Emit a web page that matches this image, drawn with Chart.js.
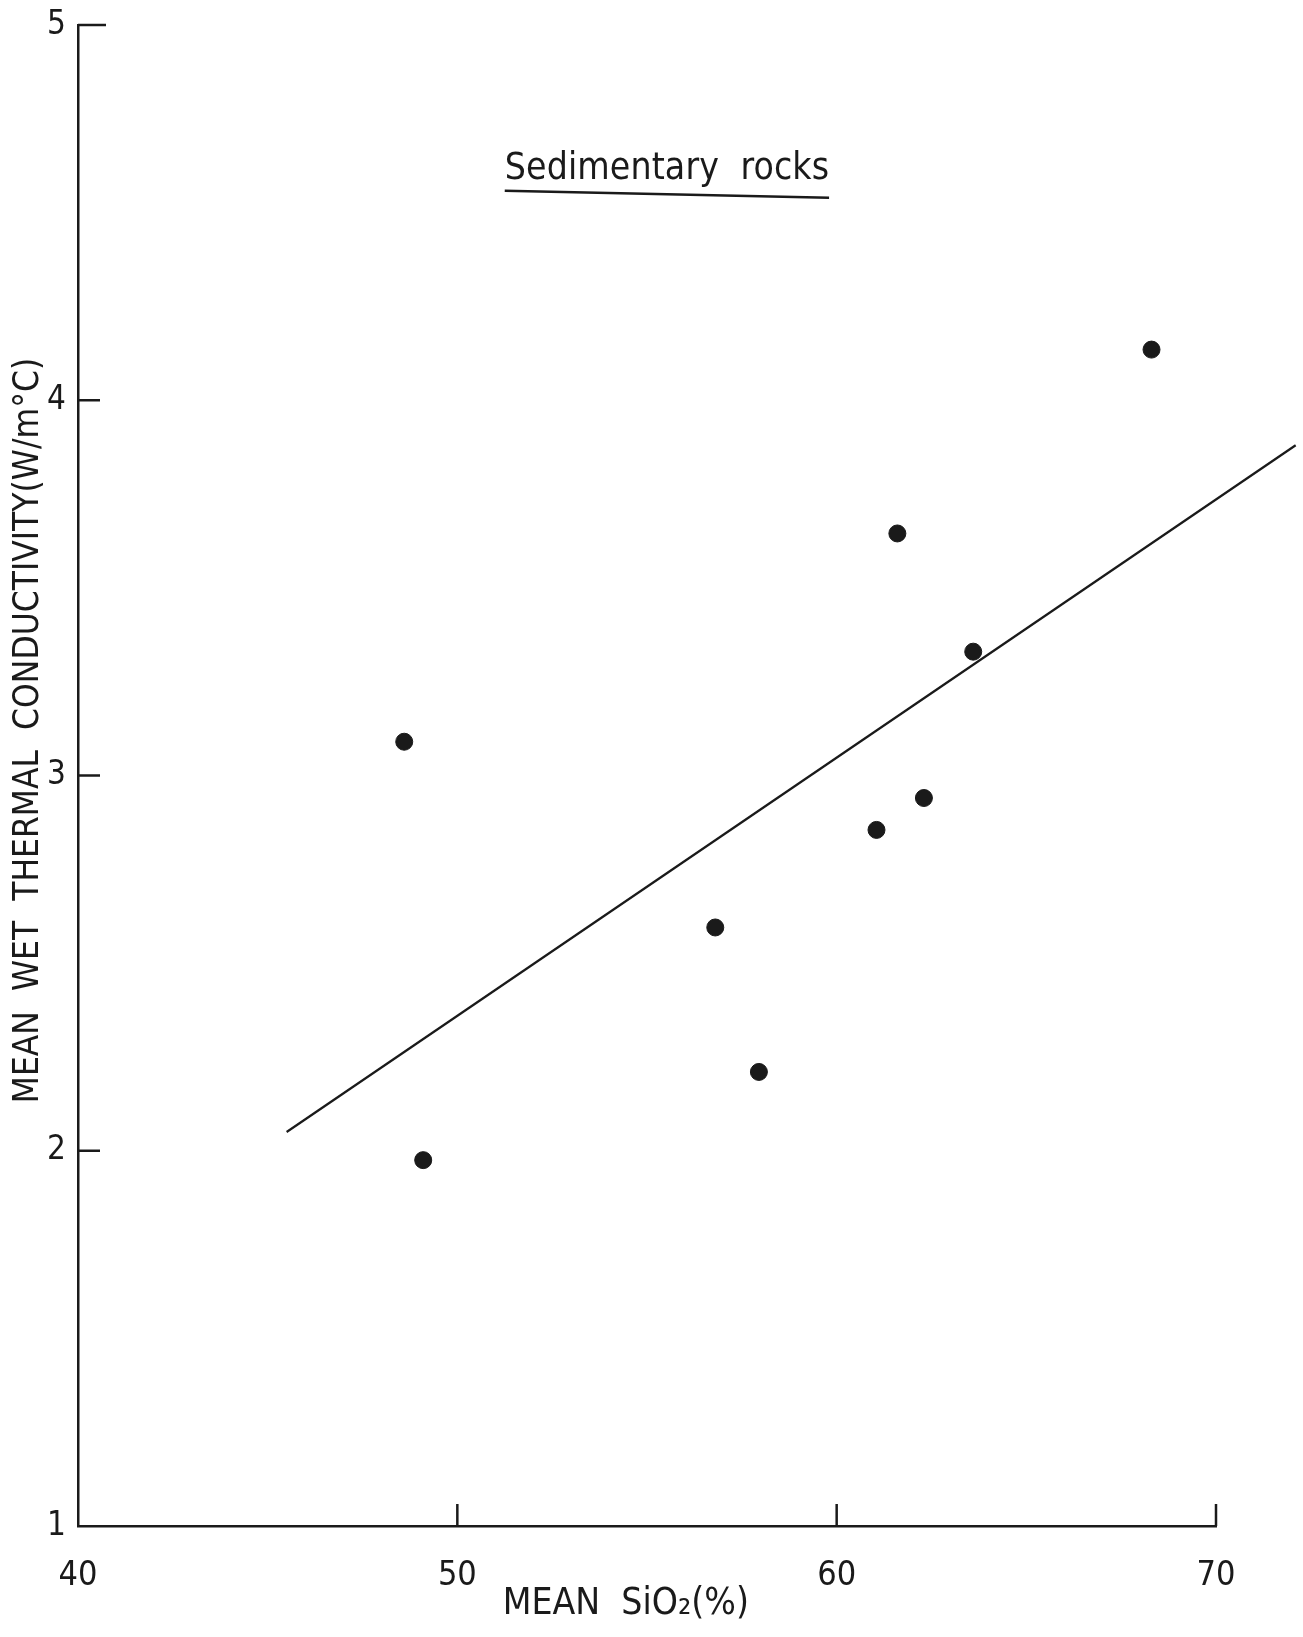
<!DOCTYPE html>
<html>
<head>
<meta charset="utf-8">
<title>Sedimentary rocks</title>
<script src="https://cdn.jsdelivr.net/npm/chart.js@4/dist/chart.umd.min.js"></script>
<style>
    html, body { margin: 0; padding: 0; background: #fff; }
    canvas { display: block; }
</style>
</head>
<body>
<canvas id="rockChart" width="1303" height="1637"></canvas>
<script>
// ========================================
// Data
// ========================================
const sio2 = [48.6, 49.1, 56.8, 57.95, 61.05, 61.6, 62.3, 63.6, 68.3];
const conductivity = [3.09, 1.975, 2.595, 2.21, 2.855, 3.645, 2.94, 3.33, 4.135];

const fitX = [45.5, 72.1];
const fitY = [2.05, 3.88];

const xTicks = [40, 50, 60, 70];
const yTicks = [1, 2, 3, 4, 5];
const xTickMarks = [50, 60, 70];
const yTickMarks = [2, 3, 4, 5];

const INK = '#1a1a1a';
const FONT = "'DejaVu Sans Condensed', 'DejaVu Sans', sans-serif";

// ========================================
// Tick marks + underlined heading
// ========================================
const paperPlugin = {
    id: 'paper',
    afterDraw(chart) {
        const { ctx, chartArea, scales } = chart;
        const x = scales.x, y = scales.y;
        ctx.save();
        ctx.strokeStyle = INK;
        ctx.lineWidth = 2.5;

        // y ticks point into the plot
        yTickMarks.forEach(v => {
            const py = y.getPixelForValue(v);
            const len = v === 5 ? 28 : 22;
            ctx.beginPath();
            ctx.moveTo(chartArea.left, py);
            ctx.lineTo(chartArea.left + len, py);
            ctx.stroke();
        });

        // x ticks point up
        xTickMarks.forEach(v => {
            const px = x.getPixelForValue(v);
            ctx.beginPath();
            ctx.moveTo(px, chartArea.bottom);
            ctx.lineTo(px, chartArea.bottom - 22);
            ctx.stroke();
        });

        // heading, spread to the width of the hand-lettered one
        const text = 'Sedimentary  rocks';
        const hx = x.getPixelForValue(51.25);
        const hy = y.getPixelForValue(4.59);
        const target = x.getPixelForValue(59.8) - hx;
        ctx.fillStyle = INK;
        ctx.font = '37px ' + FONT;
        ctx.textAlign = 'left';
        ctx.textBaseline = 'alphabetic';
        const raw = ctx.measureText(text).width;
        ctx.letterSpacing = Math.max(0, (target - raw) / (text.length - 1)) + 'px';
        ctx.fillText(text, hx, hy);
        ctx.lineWidth = 2.5;
        ctx.beginPath();
        ctx.moveTo(hx, hy + 12);
        ctx.lineTo(hx + target, hy + 19);
        ctx.stroke();
        ctx.restore();
    }
};

// ========================================
// Chart
// ========================================
new Chart(document.getElementById('rockChart'), {
    type: 'scatter',
    data: {
        datasets: [
            {
                label: 'Samples',
                data: sio2.map((v, i) => ({ x: v, y: conductivity[i] })),
                backgroundColor: INK,
                borderColor: INK,
                pointRadius: 8.5,
                pointHoverRadius: 8.5
            },
            {
                label: 'Fit',
                type: 'line',
                data: fitX.map((v, i) => ({ x: v, y: fitY[i] })),
                borderColor: INK,
                borderWidth: 2.2,
                pointRadius: 0,
                fill: false,
                clip: false
            }
        ]
    },
    options: {
        responsive: false,
        animation: false,
        layout: { padding: { top: 25, right: 87, bottom: 0, left: 0 } },
        plugins: {
            legend: { display: false },
            tooltip: { enabled: false }
        },
        scales: {
            x: {
                type: 'linear',
                min: 40,
                max: 70,
                afterBuildTicks: s => { s.ticks = xTicks.map(v => ({ value: v })); },
                afterFit: s => { s.height = 111; },
                grid: { display: false },
                border: { display: true, color: INK, width: 2.5 },
                ticks: { color: INK, padding: 22, font: { family: FONT, size: 34 } },
                title: {
                    display: true,
                    text: 'MEAN  SiO₂(%)    ',
                    color: INK,
                    padding: { top: 0, bottom: 10 },
                    font: { family: FONT, size: 37 }
                }
            },
            y: {
                type: 'linear',
                min: 1,
                max: 5,
                afterBuildTicks: s => { s.ticks = yTicks.map(v => ({ value: v })); },
                afterFit: s => { s.width = 78; },
                grid: { display: false },
                border: { display: true, color: INK, width: 2.5 },
                ticks: { color: INK, padding: 4, font: { family: FONT, size: 33 } },
                title: {
                    display: true,
                    text: '         MEAN  WET  THERMAL  CONDUCTIVITY(W/m°C)',
                    color: INK,
                    padding: { top: 8, bottom: 0 },
                    font: { family: FONT, size: 35 }
                }
            }
        }
    },
    plugins: [paperPlugin]
});
</script>
</body>
</html>
